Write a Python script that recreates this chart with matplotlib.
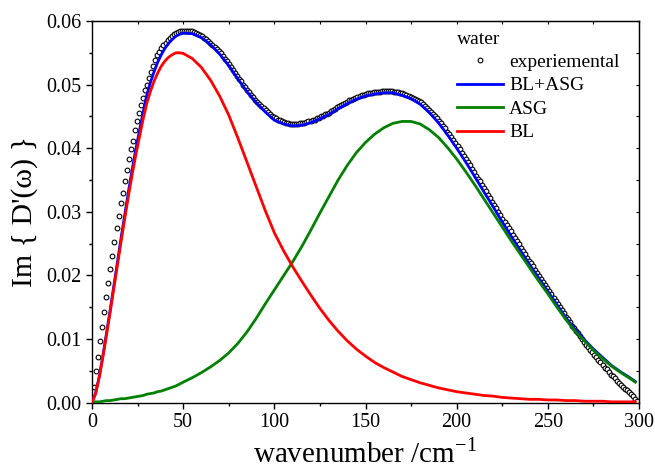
import numpy as np
import matplotlib
matplotlib.use("Agg")
import matplotlib.pyplot as plt
from matplotlib.ticker import MultipleLocator, FormatStrFormatter, NullFormatter

# ---------------- data ----------------
# model curves (wavenumber grid, cm^-1)
fit_x = [0, 2, 4, 6, 8, 10, 12, 14, 16, 18, 20, 22, 24, 26, 28, 30, 32, 34, 36, 38,
         40, 42, 44, 46, 48,
         50, 55, 60, 65, 70, 75, 80, 85, 90, 95, 100, 105, 110, 115, 120, 125, 130,
         135, 140, 145, 150, 155, 160, 165, 170, 175, 180, 185, 190, 195, 200, 205,
         210, 215, 220, 225, 230, 235, 240, 245, 250, 255, 260, 265, 270, 275, 280,
         285, 290, 295, 298]

bl = [0.0, 0.0014, 0.0040, 0.0072, 0.0107, 0.0143, 0.0180, 0.0217, 0.0254, 0.0290,
      0.0325, 0.0358, 0.0389, 0.0417, 0.0445, 0.0470, 0.0489, 0.0505, 0.0518, 0.0529,
      0.0537, 0.0543, 0.0547, 0.0550, 0.0550,
      0.0549, 0.0541, 0.0527, 0.0507, 0.0482, 0.0452, 0.0416, 0.0378, 0.0340, 0.0302,
      0.0267, 0.0239, 0.0214, 0.0191, 0.0169, 0.0148, 0.0129, 0.0112, 0.0097, 0.0084,
      0.0073, 0.0063, 0.0055, 0.0048, 0.0041, 0.0036, 0.0031, 0.0027, 0.0023, 0.0020,
      0.0017, 0.0015, 0.0013, 0.0011, 0.0010, 0.0008, 0.0007, 0.0006, 0.0005, 0.0005,
      0.0004, 0.0004, 0.0003, 0.0003, 0.0002, 0.0002, 0.0002, 0.0001, 0.0001, 0.0001,
      0.0001]

asg = [0.0, 0.0001, 0.0001, 0.0002, 0.0003, 0.0003, 0.0004, 0.0005, 0.0006, 0.0006,
       0.0007, 0.0008, 0.0009, 0.0010, 0.0011, 0.0013, 0.0014, 0.0015, 0.0017, 0.0018,
       0.0020, 0.0022, 0.0024, 0.0026, 0.0029,
       0.0032, 0.0039, 0.0047, 0.0056, 0.0066, 0.0078, 0.0093, 0.0111, 0.0132, 0.0155,
       0.0177, 0.0199, 0.0221, 0.0245, 0.0271, 0.0298, 0.0324, 0.0350, 0.0373, 0.0393,
       0.0409, 0.0422, 0.0432, 0.0439, 0.0442, 0.0442, 0.0438, 0.0429, 0.0417, 0.0401,
       0.0383, 0.0363, 0.0342, 0.0320, 0.0298, 0.0276, 0.0254, 0.0233, 0.0212, 0.0191,
       0.0171, 0.0150, 0.0130, 0.0112, 0.0097, 0.0082, 0.0069, 0.0057, 0.0047, 0.0038,
       0.0032]

bl_asg = [0.0, 0.0015, 0.0041, 0.0074, 0.0110, 0.0146, 0.0184, 0.0222, 0.0260, 0.0296,
          0.0332, 0.0366, 0.0398, 0.0427, 0.0456, 0.0483, 0.0503, 0.0520, 0.0535, 0.0547,
          0.0557, 0.0565, 0.0571, 0.0576, 0.0579,
          0.0581, 0.0580, 0.0574, 0.0563, 0.0548, 0.0530, 0.0509, 0.0489, 0.0472, 0.0457,
          0.0444, 0.0438, 0.0435, 0.0436, 0.0440, 0.0446, 0.0453, 0.0462, 0.0470, 0.0477,
          0.0482, 0.0485, 0.0487, 0.0487, 0.0483, 0.0478, 0.0469, 0.0456, 0.0440, 0.0421,
          0.0400, 0.0378, 0.0355, 0.0331, 0.0308, 0.0284, 0.0261, 0.0239, 0.0217, 0.0196,
          0.0175, 0.0154, 0.0133, 0.0115, 0.0099, 0.0084, 0.0071, 0.0058, 0.0048, 0.0039,
          0.0033]

# experimental spectrum, sampled every 1.12 cm^-1
exp_step = 1.12
exp_y = [
    0.0025, 0.0050, 0.0072, 0.0096, 0.0119, 0.0143, 0.0166, 0.0188, 0.0210, 0.0231,
    0.0253, 0.0274, 0.0294, 0.0313, 0.0330, 0.0348, 0.0366, 0.0383, 0.0398, 0.0412,
    0.0428, 0.0442, 0.0456, 0.0468, 0.0479, 0.0491, 0.0500, 0.0511, 0.0520, 0.0530,
    0.0539,
    0.0546, 0.0552, 0.0557, 0.0562, 0.0566, 0.0570, 0.0573, 0.0576, 0.0579,
    0.0581, 0.0583, 0.0584, 0.0585, 0.0585, 0.0585, 0.0585, 0.0584, 0.0584, 0.0583,
    0.0581, 0.0579, 0.0578, 0.0576, 0.0573, 0.0571, 0.0568, 0.0566, 0.0563, 0.0559,
    0.0556, 0.0553, 0.0549, 0.0545, 0.0541, 0.0537, 0.0533, 0.0528, 0.0523, 0.0519,
    0.0514, 0.0509, 0.0505, 0.0500, 0.0496, 0.0492, 0.0488, 0.0484, 0.0480, 0.0476,
    0.0473, 0.0470, 0.0466, 0.0463, 0.0460, 0.0457, 0.0454, 0.0451, 0.0449, 0.0447,
    0.0445, 0.0444, 0.0442, 0.0441, 0.0440, 0.0439, 0.0438, 0.0438, 0.0438, 0.0438,
    0.0438, 0.0439, 0.0439, 0.0440, 0.0441, 0.0442, 0.0443, 0.0444, 0.0445, 0.0447,
    0.0448, 0.0450, 0.0451, 0.0453, 0.0454, 0.0456, 0.0458, 0.0460, 0.0462, 0.0464,
    0.0466, 0.0468, 0.0469, 0.0471, 0.0473, 0.0475, 0.0476, 0.0478, 0.0479, 0.0481,
    0.0482, 0.0483, 0.0484, 0.0485, 0.0486, 0.0486, 0.0487, 0.0488, 0.0488, 0.0489,
    0.0489, 0.0490, 0.0490, 0.0490, 0.0490, 0.0490, 0.0490, 0.0489, 0.0488, 0.0488,
    0.0487, 0.0486, 0.0485, 0.0483, 0.0482, 0.0481, 0.0479, 0.0478, 0.0476, 0.0474,
    0.0472, 0.0469, 0.0466, 0.0463, 0.0460, 0.0457, 0.0454, 0.0451, 0.0447, 0.0443,
    0.0439, 0.0435, 0.0431, 0.0426, 0.0422, 0.0417, 0.0413, 0.0408, 0.0403, 0.0398,
    0.0393, 0.0388, 0.0383, 0.0378, 0.0373, 0.0368, 0.0363, 0.0357, 0.0352, 0.0348,
    0.0342, 0.0337, 0.0332, 0.0326, 0.0321, 0.0316, 0.0311, 0.0306, 0.0300, 0.0295,
    0.0289, 0.0284, 0.0279, 0.0274, 0.0269, 0.0264, 0.0259, 0.0254, 0.0249, 0.0243,
    0.0238, 0.0233, 0.0228, 0.0223, 0.0219, 0.0214, 0.0209, 0.0204, 0.0199, 0.0194,
    0.0189, 0.0185, 0.0180, 0.0175, 0.0170, 0.0165, 0.0160, 0.0155, 0.0150, 0.0145,
    0.0140, 0.0135, 0.0131, 0.0127, 0.0121, 0.0117, 0.0113, 0.0109, 0.0104, 0.0100,
    0.0095, 0.0091, 0.0087, 0.0083, 0.0079, 0.0075, 0.0071, 0.0067, 0.0063, 0.0059,
    0.0055, 0.0052, 0.0048, 0.0044, 0.0041, 0.0038, 0.0034, 0.0031, 0.0028, 0.0025,
    0.0022, 0.0019, 0.0016, 0.0013, 0.0010, 0.0006, 0.0003]
exp_x = exp_step * np.arange(1, len(exp_y) + 1)

legend_title = "water"
labels = ["experiemental", "BL+ASG", "ASG", "BL"]

# ---------------- style ----------------
plt.rcParams['font.family'] = ['Liberation Serif', 'DejaVu Serif']
plt.rcParams['mathtext.fontset'] = 'custom'
plt.rcParams['mathtext.rm'] = 'Liberation Serif'

fig = plt.figure(figsize=(6.55, 4.72), dpi=100)
ax = fig.add_axes([92 / 655, 1 - 402.5 / 472, 547 / 655, 381.5 / 472])

ax.plot(exp_x, exp_y, 'o', mfc='white', mec='black', ms=3.4, mew=0.8,
        label=labels[0], zorder=2)
ax.plot(fit_x, bl_asg, color='#0000ff', lw=2.0, label=labels[1], zorder=3)
ax.plot(fit_x, asg, color='#008000', lw=2.0, label=labels[2], zorder=3)
ax.plot(fit_x, bl, color='#ff0000', lw=2.0, label=labels[3], zorder=3)

ax.set_xlim(0, 300)
ax.set_ylim(0, 0.06)
ax.xaxis.set_major_locator(MultipleLocator(50))
ax.xaxis.set_minor_locator(MultipleLocator(25))
ax.yaxis.set_major_locator(MultipleLocator(0.01))
ax.yaxis.set_minor_locator(MultipleLocator(0.005))
ax.yaxis.set_major_formatter(FormatStrFormatter('%.2f'))

ax.tick_params(which='both', direction='out', top=False, right=False,
               labelsize=14.5, width=1.0, colors='black')
ax.tick_params(which='major', length=4.5, pad=3)
ax.tick_params(which='minor', length=2.5)

for sp in ax.spines.values():
    sp.set_linewidth(1.0)

# inward ticks on the top and right frame
topax = ax.secondary_xaxis('top')
topax.xaxis.set_major_locator(MultipleLocator(25))
topax.xaxis.set_major_formatter(NullFormatter())
topax.tick_params(direction='in', length=2.5, width=0.8)
rightax = ax.secondary_yaxis('right')
rightax.yaxis.set_major_locator(MultipleLocator(0.005))
rightax.yaxis.set_major_formatter(NullFormatter())
rightax.tick_params(direction='in', length=2.5, width=0.8)

ax.set_xlabel('wavenumber /cm$^{\\mathregular{-1}}$', fontsize=21, labelpad=5)
ax.set_ylabel("Im { D'(\u03c9) }", fontsize=21.5, labelpad=6)

leg = ax.legend(title=legend_title, loc='upper left', bbox_to_anchor=(0.668, 0.975),
                frameon=False, fontsize=14, title_fontsize=14, alignment='left',
                handlelength=2.35, handletextpad=0.3, labelspacing=0.3,
                borderpad=0.0, borderaxespad=0.0, markerscale=1.0)

fig.savefig('out.png', dpi=100)
